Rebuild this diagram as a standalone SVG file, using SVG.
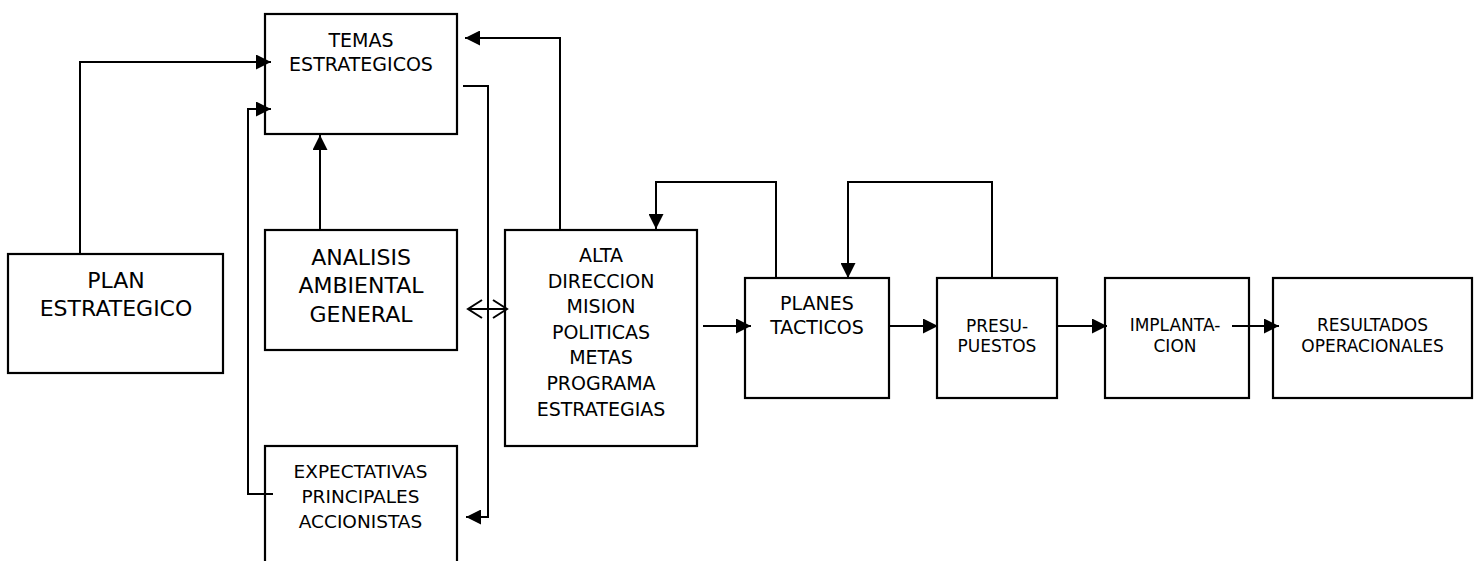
<svg xmlns="http://www.w3.org/2000/svg" width="1479" height="561" viewBox="0 0 1479 561">
<style>
.box{fill:#fff;stroke:#000;stroke-width:2.2}
.ln{fill:none;stroke:#000;stroke-width:2}
text{font-family:"DejaVu Sans","Liberation Sans",sans-serif;fill:#000;text-anchor:middle}
.t22{font-size:22px}
.t19{font-size:19px}
.t18{font-size:18.5px}
.t17{font-size:17px}
</style>
<defs>
<marker id="ah" viewBox="0 0 15 15" refX="15" refY="7.5" markerWidth="15" markerHeight="15" markerUnits="userSpaceOnUse" orient="auto">
<path d="M0,0 L15,7.5 L0,15 z" fill="#000"/>
</marker>
</defs>
<rect width="1479" height="561" fill="#fff"/>
<g id="n-temas">
<rect class="box" x="265" y="14" width="192" height="120"/>
<text class="t19" x="361" y="47">TEMAS</text>
<text class="t19" x="361" y="71">ESTRATEGICOS</text>
</g>
<g id="n-plan">
<rect class="box" x="8" y="254" width="215" height="119"/>
<text class="t22" x="116" y="288">PLAN</text>
<text class="t22" x="116" y="316">ESTRATEGICO</text>
</g>
<g id="n-analisis">
<rect class="box" x="265" y="230" width="192" height="120"/>
<text class="t22" x="361" y="265">ANALISIS</text>
<text class="t22" x="361" y="293">AMBIENTAL</text>
<text class="t22" x="361" y="322">GENERAL</text>
</g>
<g id="n-expect">
<rect class="box" x="265" y="446" width="192" height="130"/>
<text class="t18" x="360.5" y="478">EXPECTATIVAS</text>
<text class="t18" x="360.5" y="503">PRINCIPALES</text>
<text class="t18" x="360.5" y="528">ACCIONISTAS</text>
</g>
<g id="n-alta">
<rect class="box" x="505" y="230" width="192" height="216"/>
<text class="t19" x="601" y="262">ALTA</text>
<text class="t19" x="601" y="288">DIRECCION</text>
<text class="t19" x="601" y="313">MISION</text>
<text class="t19" x="601" y="339">POLITICAS</text>
<text class="t19" x="601" y="364">METAS</text>
<text class="t19" x="601" y="390">PROGRAMA</text>
<text class="t19" x="601" y="416">ESTRATEGIAS</text>
</g>
<g id="n-planes">
<rect class="box" x="745" y="278" width="144" height="120"/>
<text class="t19" x="817" y="310">PLANES</text>
<text class="t19" x="817" y="334">TACTICOS</text>
</g>
<g id="n-presu">
<rect class="box" x="937" y="278" width="120" height="120"/>
<text class="t17" x="997" y="332">PRESU-</text>
<text class="t17" x="997" y="352">PUESTOS</text>
</g>
<g id="n-impl">
<rect class="box" x="1105" y="278" width="144" height="120"/>
<text class="t17" x="1175" y="331">IMPLANTA-</text>
<text class="t17" x="1175" y="352">CION</text>
</g>
<g id="n-result">
<rect class="box" x="1273" y="278" width="199" height="120"/>
<text class="t17" x="1372.5" y="331">RESULTADOS</text>
<text class="t17" x="1372.5" y="352">OPERACIONALES</text>
</g>
<g id="connectors">
<path class="ln" d="M80,254 V62 H271" marker-end="url(#ah)"/>
<path class="ln" d="M273,494 H248 V109 H271" marker-end="url(#ah)"/>
<path class="ln" d="M320,230 V135" marker-end="url(#ah)"/>
<path class="ln" d="M463,86 H488 V517 H466" marker-end="url(#ah)"/>
<path class="ln" d="M560,230 V38 H465" marker-end="url(#ah)"/>
<path class="ln" d="M468,309 H507 M482,300 L468,309 L482,318 M493,300 L507,309 L493,318"/>
<path class="ln" d="M703,326 H751" marker-end="url(#ah)"/>
<path class="ln" d="M776,278 V182 H656 V229" marker-end="url(#ah)"/>
<path class="ln" d="M890,326 H938" marker-end="url(#ah)"/>
<path class="ln" d="M992,278 V182 H848 V278" marker-end="url(#ah)"/>
<path class="ln" d="M1058,326 H1107" marker-end="url(#ah)"/>
<path class="ln" d="M1232,326 H1279" marker-end="url(#ah)"/>
</g>
</svg>
